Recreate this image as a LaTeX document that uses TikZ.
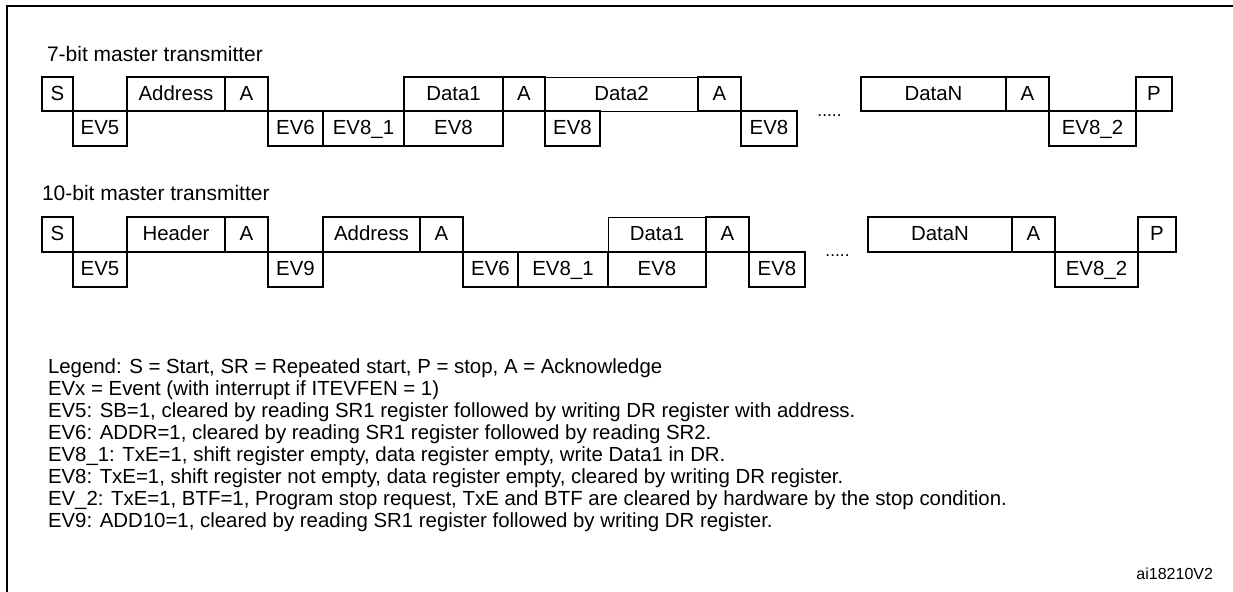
\documentclass[tikz,border=0pt]{standalone}
\usepackage{fontspec}
\setmainfont{Liberation Sans}
\usetikzlibrary{positioning}

\begin{document}
\begin{tikzpicture}[x=0.5pt,y=-0.5pt,
  every node/.style={inner sep=0pt,outer sep=0pt},
  slot/.style={draw,line width=0.85pt,text height=1.45ex,text depth=0.25ex,
    font=\fontsize{10.2}{12}\selectfont},
  thinslot/.style={slot,line width=0.45pt},
  caption/.style={anchor=base west,font=\fontsize{10.5}{12}\selectfont},
  legendline/.style={anchor=base west,font=\fontsize{10.2}{11}\selectfont}]
  \useasboundingbox (0,0) rectangle (1233,592);
  % frame, only top and left edges show
  \draw[line width=1pt] (7,600) -- (7,6) -- (1240,6);

  % 7-bit master transmitter
  \node[caption] (capA) at (47,62) {7-bit master transmitter};
  \node[thinslot,minimum width={153*0.5pt},minimum height={34*0.5pt}] (d2A) at (621.5,94) {Data2};
  \foreach \nm/\xa/\xb/\lbl in {sA/42/73/S, adA/127/225/Address, akA1/225/268/A,
      d1A/404/503/Data1, akA2/503/545/A, akA3/698/741/A, dnA/861/1006/DataN,
      akA4/1006/1049/A, pA/1136/1172/P}
    \node[slot,minimum width={(\xb-\xa)*0.5pt},minimum height={34*0.5pt}] (\nm) at ({(\xa+\xb)/2},94) {\lbl};
  \foreach \nm/\xa/\xb/\lbl in {evA5/73/127/EV5, evA6/268/323/EV6, evA81/323/404/EV8\_1,
      evA8a/404/503/EV8, evA8b/545/600/EV8, evA8c/741/797/EV8, evA82/1049/1136/EV8\_2}
    \node[slot,minimum width={(\xb-\xa)*0.5pt},minimum height={35*0.5pt}] (\nm) at ({(\xa+\xb)/2},128.5) {\lbl};
  \node[anchor=base,font=\fontsize{8.7}{10}\selectfont] (dotsA) at (829.5,117) {.....};

  % 10-bit master transmitter
  \node[caption] (capB) at (42,201) {10-bit master transmitter};
  \node[thinslot,minimum width={98*0.5pt},minimum height={35*0.5pt}] (d1B) at (657,234.5) {Data1};
  \foreach \nm/\xa/\xb/\lbl in {sB/42/73/S, hdB/127/225/Header, akB1/225/268/A,
      adB/323/420/Address, akB2/420/463/A, akB3/706/749/A, dnB/868/1012/DataN,
      akB4/1012/1055/A, pB/1138/1176/P}
    \node[slot,minimum width={(\xb-\xa)*0.5pt},minimum height={35*0.5pt}] (\nm) at ({(\xa+\xb)/2},234.5) {\lbl};
  \foreach \nm/\xa/\xb/\lbl in {evB5/73/127/EV5, evB9/268/323/EV9, evB6/463/518/EV6,
      evB81/518/608/EV8\_1, evB8a/608/706/EV8, evB8b/749/805/EV8, evB82/1055/1138/EV8\_2}
    \node[slot,minimum width={(\xb-\xa)*0.5pt},minimum height={35*0.5pt}] (\nm) at ({(\xa+\xb)/2},269.5) {\lbl};
  \node[anchor=base,font=\fontsize{8.7}{10}\selectfont] (dotsB) at (837.5,257) {.....};

  % legend
  \foreach \i/\txt in {0/{Legend: S = Start, SR = Repeated start, P = stop, A = Acknowledge},
      1/{EVx = Event (with interrupt if ITEVFEN = 1)},
      2/{EV5: SB=1, cleared by reading SR1 register followed by writing DR register with address.},
      3/{EV6: ADDR=1, cleared by reading SR1 register followed by reading SR2.},
      4/{EV8\_1: TxE=1, shift register empty, data register empty, write Data1 in DR.},
      5/{EV8: TxE=1, shift register not empty, data register empty, cleared by writing DR register.},
      6/{EV\_2: TxE=1, BTF=1, Program stop request, TxE and BTF are cleared by hardware by the stop condition.},
      7/{EV9: ADD10=1, cleared by reading SR1 register followed by writing DR register.}}
    \node[legendline] (leg\i) at (48,{374+22*\i}) {\txt};
  \node[anchor=base east,font=\fontsize{8}{10}\selectfont] (figid) at (1213,580) {ai18210V2};
\end{tikzpicture}
\end{document}
